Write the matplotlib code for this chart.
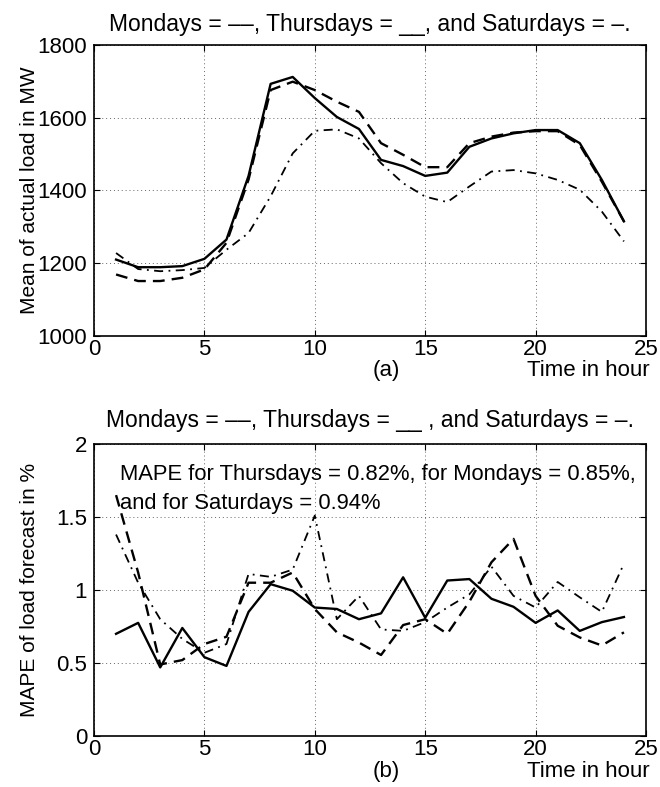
import matplotlib
matplotlib.use("Agg")
import matplotlib.pyplot as plt

plt.rcParams['font.family'] = ['Liberation Sans', 'DejaVu Sans']

hours = list(range(1, 25))

# (a) mean of actual load in MW
load_mon = [1169, 1151, 1151, 1160, 1183, 1256, 1430, 1676, 1699, 1676, 1644, 1616,
            1530, 1498, 1464, 1464, 1530, 1548, 1559, 1563, 1563, 1525, 1424, 1315]
load_thu = [1210, 1189, 1189, 1192, 1212, 1265, 1440, 1693, 1712, 1654, 1602, 1569,
            1484, 1467, 1440, 1449, 1520, 1543, 1557, 1566, 1566, 1530, 1429, 1315]
load_sat = [1228, 1184, 1178, 1181, 1187, 1237, 1283, 1384, 1502, 1564, 1568, 1543,
            1475, 1420, 1383, 1368, 1411, 1452, 1456, 1447, 1429, 1402, 1342, 1260]

# (b) MAPE of load forecast in %
mape_mon = [1.65, 1.12, 0.49, 0.52, 0.63, 0.68, 1.05, 1.05, 1.12, 0.87, 0.71, 0.64,
            0.555, 0.76, 0.80, 0.70, 0.92, 1.19, 1.35, 0.96, 0.755, 0.675, 0.62, 0.71]
mape_thu = [0.70, 0.775, 0.47, 0.74, 0.54, 0.48, 0.85, 1.04, 0.995, 0.88, 0.87, 0.80,
            0.84, 1.087, 0.81, 1.065, 1.075, 0.94, 0.885, 0.775, 0.86, 0.72, 0.78, 0.815]
mape_sat = [1.38, 1.05, 0.80, 0.665, 0.57, 0.63, 1.11, 1.09, 1.14, 1.51, 0.80, 0.96,
            0.73, 0.72, 0.78, 0.88, 0.97, 1.16, 0.96, 0.88, 1.055, 0.95, 0.85, 1.18]

FS = 16
LFS = 15

fig = plt.figure(figsize=(6.6, 7.87), dpi=100)
ax1 = fig.add_axes([0.1424, 0.5731, 0.8364, 0.3698])
ax2 = fig.add_axes([0.1424, 0.0648, 0.8364, 0.3710])


def style(ax):
    ax.set_xlim(0, 25)
    ax.set_xticks([0, 5, 10, 15, 20, 25])
    ax.grid(True, linestyle=(0, (1, 3)), color="#666666", linewidth=0.7)
    ax.tick_params(direction="in", top=True, right=True, labelsize=FS, length=4, width=0.8)
    ax.tick_params(axis="x", pad=2)
    ax.tick_params(axis="y", pad=5)
    for s in ax.spines.values():
        s.set_linewidth(1.2)
    ax.yaxis.set_label_coords(-0.10, 0.5)


ax1.plot(hours, load_mon, color="k", lw=1.7, linestyle=(0, (5, 3)))
ax1.plot(hours, load_thu, color="k", lw=1.7, linestyle="-")
ax1.plot(hours, load_sat, color="k", lw=1.3, linestyle=(0, (5, 3, 1, 3)))
style(ax1)
ax1.set_ylim(1000, 1800)
ax1.set_yticks([1000, 1200, 1400, 1600, 1800])
ax1.set_ylabel("Mean of actual load in MW", fontsize=LFS)
ax1.set_title("Mondays = \u2013\u2013, Thursdays = __, and Saturdays = \u2013.", fontsize=16.5, pad=10)
ax1.text(0.53, -0.12, "(a)", transform=ax1.transAxes, fontsize=FS, ha="center", va="center")
ax1.text(1.007, -0.12, "Time in hour", transform=ax1.transAxes, fontsize=FS, ha="right", va="center")

ax2.plot(hours, mape_mon, color="k", lw=1.7, linestyle=(0, (5, 3)))
ax2.plot(hours, mape_thu, color="k", lw=1.7, linestyle="-")
ax2.plot(hours, mape_sat, color="k", lw=1.3, linestyle=(0, (5, 3, 1, 3)))
style(ax2)
ax2.set_ylim(0, 2)
ax2.set_yticks([0, 0.5, 1, 1.5, 2])
ax2.set_yticklabels(["0", "0.5", "1", "1.5", "2"])
ax2.set_ylabel("MAPE of load forecast in %", fontsize=LFS)
ax2.set_title("Mondays = \u2013\u2013, Thursdays = __ , and Saturdays = \u2013.", fontsize=16.5, pad=12)
ax2.text(1.2, 1.79, "MAPE for Thursdays = 0.82%, for Mondays = 0.85%,", fontsize=15.8, va="center")
ax2.text(1.2, 1.59, "and for Saturdays = 0.94%", fontsize=15.8, va="center")
ax2.text(0.53, -0.12, "(b)", transform=ax2.transAxes, fontsize=FS, ha="center", va="center")
ax2.text(1.007, -0.12, "Time in hour", transform=ax2.transAxes, fontsize=FS, ha="right", va="center")

fig.savefig("out.png", dpi=100)
